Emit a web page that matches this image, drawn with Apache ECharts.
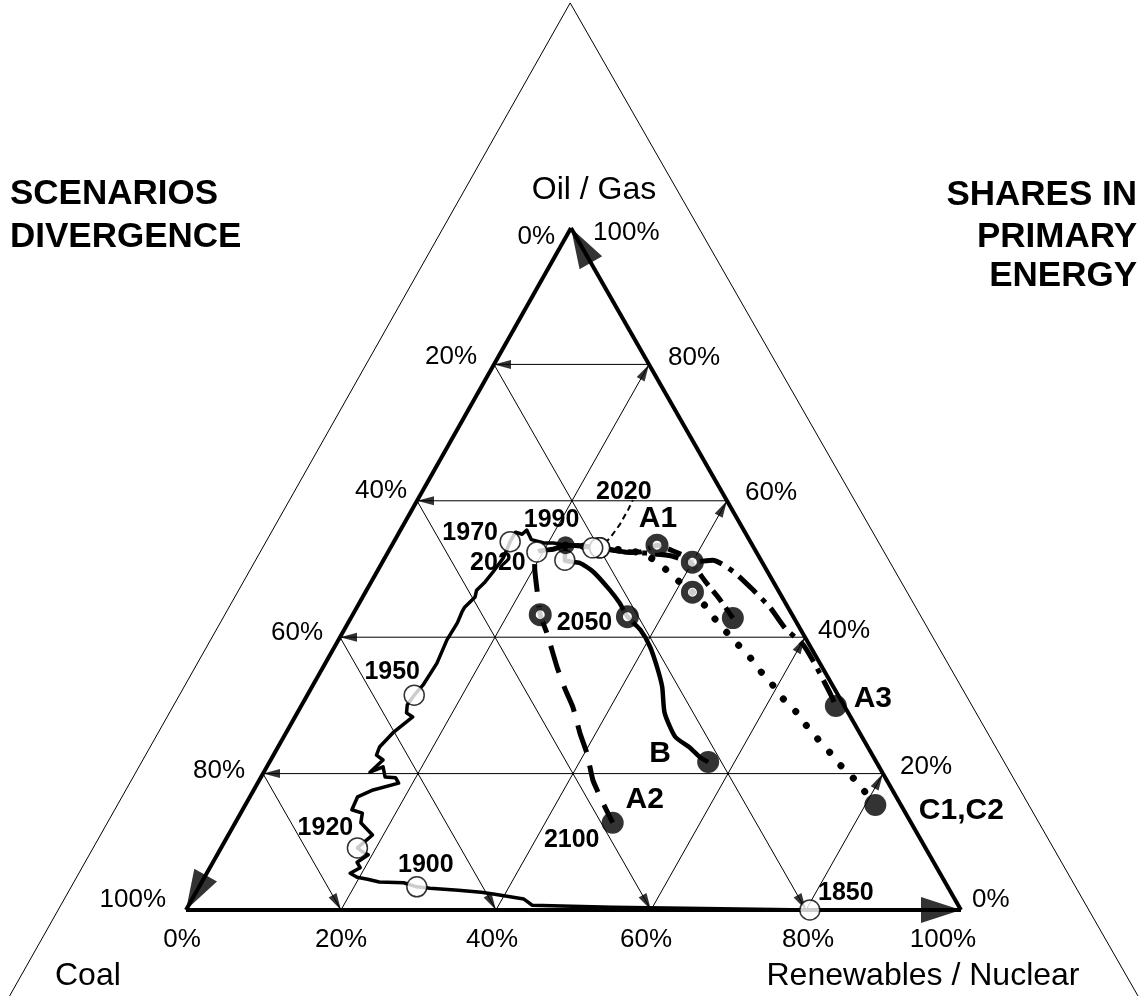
<!DOCTYPE html>
<html>
<head>
<meta charset="utf-8">
<title>Scenarios divergence - shares in primary energy</title>
<script src="https://cdn.jsdelivr.net/npm/echarts@6/dist/echarts.min.js"></script>
<style>
html,body{margin:0;padding:0;background:#ffffff;}
#chart{width:1141px;height:996px;}
</style>
</head>
<body>
<div id="chart"></div>
<script>
// ================= DATA =================
// Each point: [renewables/nuclear %, oil/gas %, year tag (optional)]; coal % = 100 - the two others
const TICKS = [0, 20, 40, 60, 80, 100];
const AXIS_NAMES = { top: 'Oil / Gas', left: 'Coal', right: 'Renewables / Nuclear' };
const HEADING_LEFT = ['SCENARIOS', 'DIVERGENCE'];
const HEADING_RIGHT = ['SHARES IN', 'PRIMARY', 'ENERGY'];
const SCENARIO_NAMES = { A1: 'A1', A2: 'A2', A3: 'A3', B: 'B', C: 'C1,C2' };

const HISTORY = [
  [80.5,0,1850],[69.0,0.2],[54.8,0.4],[44.3,0.7],[43.5,1.2],[42.8,1.6],[38.7,2.3],[36.8,2.6],
  [33.7,2.9],[29.9,3.2],[28.1,3.4,1900],[26.1,4.0],[22.9,4.1],[21.2,4.5],[19.7,4.8],[18.5,5.4],
  [19.4,6.2],[18.6,7.0],[19.5,8.1],[18.6,8.5],[17.6,9.1,1920],[18.6,11.0],[16.2,12.8],[15.7,14.2],
  [14.1,14.7],[13.9,16.6],[15.4,17.6],[18.2,18.6],[17.4,19.4],[16.0,19.5],[15.0,21.0],[13.7,20.2],
  [14.5,22.0],[13.3,22.7],[13.1,23.9],[13.8,26.0],[15.2,28.3],[14.1,28.9],[13.6,30.1],[13.8,31.5,1950],
  [14.2,33.0],[14.4,36.2],[14.0,39.6],[14.1,42.1],[13.9,43.7],[13.9,44.4],[14.5,45.9],[14.2,46.9],
  [14.7,48.1],[15.0,49.6],[15.3,51.6],[15.0,54.0,1970],[15.0,55.4],[16.0,55.1],[16.3,55.7],[17.6,54.3],
  [19.6,53.8],[20.7,53.8],[22.4,53.5,1990]
];
const SCEN_A1 = [
  [22.4,53.5],[24.3,53.4],[27.0,53.1,2020],[29.9,52.6],[32.5,52.5],[34.2,53.5,2050],[36.3,52.8],
  [38.7,51.8],[41.1,49.9],[43.4,47.9],[46.3,45.5],[49.3,42.8,2100]
];
const SCEN_A2 = [
  [22.4,53.5],[21.1,52.9],[19.2,52.5,2020],[20.0,50.3],[22.0,46.9],[24.2,43.3,2050],[26.4,40.6],
  [30.2,35.6],[32.9,32.3],[35.1,29.8],[37.9,26.0],[40.3,23.0],[43.0,19.1],[44.3,17.6],[46.0,15.7],
  [48.7,12.8,2100]
];
const SCEN_A3 = [
  [22.4,53.5],[24.3,53.4],[27.0,53.1,2020],[30.5,52.5],[33.9,52.3],[36.9,51.9],[40.0,51.0,2050],
  [42.5,51.3],[46.0,49.6],[49.9,46.9],[53.4,44.3],[56.8,41.3],[60.3,38.9],[62.9,36.4],[65.5,33.7],
  [67.4,31.7],[69.0,29.9,2100]
];
const SCEN_B = [
  [22.4,53.5],[23.4,51.3,2020],[25.5,50.9],[27.9,49.6],[31.4,46.9],[33.6,45.0],[35.6,43.0,2050],
  [38.2,41.1],[40.7,38.6],[43.1,35.6],[45.2,32.7],[47.4,28.9],[50.5,25.4],[53.2,23.8],[55.2,22.4],
  [56.6,21.7,2100]
];
const SCEN_C = [
  [22.4,53.5],[24.3,53.4],[26.1,53.1,2020],[28.4,52.9],[30.7,52.8],[33.3,52.1],[35.5,51.0],[37.6,49.6],
  [39.8,48.1],[42.2,46.6,2050],[45.2,44.3],[47.6,42.2],[49.7,40.6],[52.3,38.6],[54.8,36.7],[57.0,34.8],
  [59.3,33.0],[61.5,31.1],[64.1,29.2],[66.3,27.3],[68.9,25.2],[71.0,23.6],[73.4,21.6],[75.9,19.8],
  [78.3,17.9],[81.3,15.4,2100]
];
const LEADER_2020 = [[27.3,53.8],[27.6,54.5],[27.9,56.5],[27.9,58.7],[27.8,60.1]];
const LEADER_TEXT = '2020';
const OUTER_FRAME = [[-16.5,133],[-16.5,-16.5],[133,-16.5],[-16.5,133]];

// ================= LAYOUT / STYLE =================
const FONT = '"Liberation Sans", Arial, Helvetica, sans-serif';
const K = 0.4968;                                   // apex position along the base
const X_MIN = -24.0, X_MAX = 123.23, Y_MIN = -12.61, Y_MAX = 133.43;  // plot window around the triangle
function tern(r, o) { return [r + K * o, o]; }
function pt(p) { return tern(p[0], p[1]); }
function atYear(path, y) { return path.find(p => p[2] === y); }

const chart = echarts.init(document.getElementById('chart'), null, { renderer: 'canvas', width: 1141, height: 996 });

const series = [];
function plainLine(points, style, z, smooth) {
  return {
    type: 'line', data: points, symbol: 'none', showSymbol: false, clip: false, silent: true,
    smooth: smooth || 0, z: z, animation: false,
    lineStyle: Object.assign({ color: '#000', join: 'round' }, style)
  };
}

// outer thin triangle
series.push(plainLine(OUTER_FRAME.map(pt), { width: 1 }, 1));

// thin grid lines (arrow at the end)
const gridSegs = [];
TICKS.slice(1, -1).forEach(t => {
  gridSegs.push([[100 - t, t], [0, t]]);       // constant oil/gas -> coal axis
  gridSegs.push([[t, 0], [t, 100 - t]]);       // constant renewables -> oil/gas axis
  gridSegs.push([[0, 100 - t], [100 - t, 0]]); // constant coal -> renewables axis
});
gridSegs.forEach(s => series.push(plainLine(s.map(pt), { width: 1 }, 2)));

// thick triangle edges (arrow at the end)
const edgeSegs = [[[0, 100], [0, 0]], [[0, 0], [100, 0]], [[100, 0], [0, 100]]];
edgeSegs.forEach(s => series.push(plainLine(s.map(pt), { width: 4, cap: 'butt' }, 3)));

// trajectories
series.push(plainLine(HISTORY.map(pt), { width: 3.5 }, 5));
series.push(plainLine(SCEN_A2.map(pt), { width: 5, type: [28, 14] }, 5, 0.2));
series.push(plainLine(SCEN_B.map(pt), { width: 4.5 }, 5, 0.2));
series.push(plainLine(SCEN_A1.map(pt), { width: 5, type: [14, 7] }, 5, 0.2));
series.push(plainLine(SCEN_A3.map(pt), { width: 5, type: [24, 8, 5, 8] }, 5, 0.2));
series.push(plainLine(SCEN_C.map(pt), { width: 7, type: [0.1, 17.5], cap: 'round' }, 5, 0.2));
series.push(plainLine(LEADER_2020.map(pt), { width: 2, type: [6, 4] }, 5));

const SCENS = [SCEN_A1, SCEN_A2, SCEN_A3, SCEN_B, SCEN_C];
function tagged(paths, years) {
  const out = [];
  paths.forEach(p => p.forEach(q => { if (years.indexOf(q[2]) >= 0) out.push(pt(q)); }));
  return out;
}
function markerSeries(data, size, itemStyle, z) {
  return { type: 'scatter', data, symbol: 'circle', symbolSize: size, silent: true, z: z || 8, itemStyle, animation: false };
}
series.push(markerSeries(tagged([HISTORY], [1850, 1900, 1920, 1950, 1970]).concat(tagged(SCENS, [2020])), 20,
  { color: '#fff', borderColor: '#000', borderWidth: 1.5 }));
series.push(markerSeries(tagged([HISTORY], [1990]), 18, { color: '#000' }, 9));
series.push(markerSeries(tagged(SCENS, [2050]), 16, { color: '#fff', borderColor: '#000', borderWidth: 7 }));
series.push(markerSeries(tagged(SCENS, [2100]), 22, { color: '#000' }));

chart.setOption({
  animation: false,
  backgroundColor: '#ffffff',
  grid: { left: 0, right: 0, top: 0, bottom: 0, show: false },
  xAxis: { type: 'value', min: X_MIN, max: X_MAX, show: false },
  yAxis: { type: 'value', min: Y_MIN, max: Y_MAX, show: false },
  series
});

// ---------- second pass: arrowheads and text, placed through the axes ----------
const toPx = v => chart.convertToPixel({ gridIndex: 0 }, v);
const toData = p => chart.convertFromPixel({ gridIndex: 0 }, p);

function arrowItem(seg, len) {
  const a = toPx(pt(seg[0])), b = toPx(pt(seg[1]));
  const dx = b[0] - a[0], dy = b[1] - a[1], L = Math.hypot(dx, dy);
  const ux = dx / L, uy = dy / L;
  return { value: toData([b[0] - ux * len / 2, b[1] - uy * len / 2]), symbolRotate: Math.atan2(-ux, -uy) * 180 / Math.PI };
}
const arrowSeries = [
  { type: 'scatter', symbol: 'triangle', symbolSize: [9, 17], silent: true, z: 4, animation: false,
    itemStyle: { color: '#000' }, data: gridSegs.map(s => arrowItem(s, 17)) },
  { type: 'scatter', symbol: 'triangle', symbolSize: [26, 40], silent: true, z: 4, animation: false,
    itemStyle: { color: '#000' }, data: edgeSegs.map(s => arrowItem(s, 40)) }
];

const graphic = [];
function gtext(x, y, text, size, bold, align) {
  graphic.push({
    type: 'text', x, y, silent: true, z: 20,
    style: { text, fontSize: size, fontWeight: bold ? 'bold' : 'normal', fontFamily: FONT, fill: '#000', align, verticalAlign: 'middle' }
  });
}
function anchored(p, text, dx, dy, size, bold, align) {
  const c = toPx(pt(p));
  gtext(c[0] + dx, c[1] + dy, text, size, bold, align || 'center');
}

// year labels
[
  [HISTORY, 1850, 36, -17], [HISTORY, 1900, 9, -22], [HISTORY, 1920, -32, -20], [HISTORY, 1950, -22, -23],
  [HISTORY, 1970, -40, -9], [HISTORY, 1990, -14, -25], [SCEN_A2, 2020, -39, 11], [SCEN_B, 2050, -43, 6],
  [SCEN_A2, 2100, -41, 17]
].forEach(l => anchored(atYear(l[0], l[1]), String(l[1]), l[2], l[3], 25, true));
anchored(LEADER_2020[LEADER_2020.length - 1], LEADER_TEXT, -9, -8, 25, true);

// scenario names
[
  [SCEN_A1, 2050, SCENARIO_NAMES.A1, 1, -26], [SCEN_A2, 2100, SCENARIO_NAMES.A2, 32, -23],
  [SCEN_A3, 2100, SCENARIO_NAMES.A3, 37, -7], [SCEN_B, 2100, SCENARIO_NAMES.B, -48, -8],
  [SCEN_C, 2100, SCENARIO_NAMES.C, 86, 6]
].forEach(l => anchored(atYear(l[0], l[1]), l[2], l[3], l[4], 30, true));

// tick labels
const BOTTOM_DX = [-4, 0, -4, -5, 2, -18];
const LEFT_DY = [9, -8, -10, -4, -3, -10], LEFT_DIST = [16, 17, 10, 17, 18, 20];
const RIGHT_DY = [-10, -7, -6, -8, -7, 5], RIGHT_DIST = [11, 17, 13, 18, 19, 22];
TICKS.forEach((t, i) => {
  const s = t + '%';
  anchored([t, 0], s, BOTTOM_DX[i], 30, 26, false, 'center');                 // renewables / nuclear
  anchored([0, 100 - t], s, -LEFT_DIST[i], LEFT_DY[i], 26, false, 'right');   // coal
  anchored([100 - t, t], s, RIGHT_DIST[i], RIGHT_DY[i], 26, false, 'left');   // oil / gas
});

// headings and axis names
gtext(10, 194, HEADING_LEFT[0], 35, true, 'left');
gtext(10, 237, HEADING_LEFT[1], 35, true, 'left');
gtext(1137, 195, HEADING_RIGHT[0], 35, true, 'right');
gtext(1137, 237, HEADING_RIGHT[1], 35, true, 'right');
gtext(1137, 276, HEADING_RIGHT[2], 35, true, 'right');
gtext(594, 190, AXIS_NAMES.top, 32, false, 'center');
gtext(55, 976, AXIS_NAMES.left, 32, false, 'left');
gtext(923, 976, AXIS_NAMES.right, 32, false, 'center');

chart.setOption({ series: series.concat(arrowSeries), graphic });
</script>
</body>
</html>
